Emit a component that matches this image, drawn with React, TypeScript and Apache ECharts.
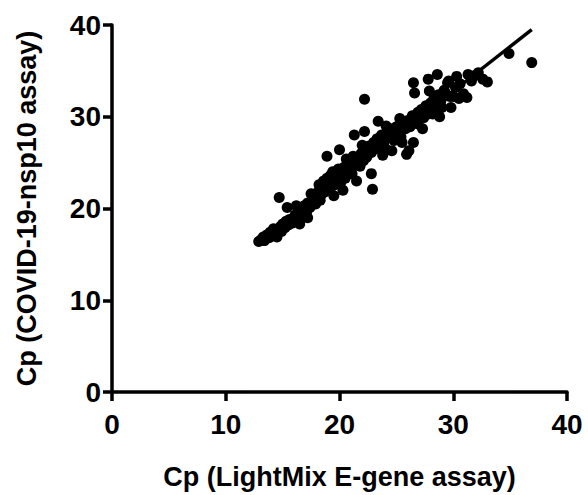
import React, { useEffect, useRef } from "react";
import * as echarts from "echarts";

const xTitle = "Cp (LightMix E-gene assay)";
const yTitle = "Cp (COVID-19-nsp10 assay)";

const points: [number, number][] = [
  [12.9, 16.4], [13.1, 16.6], [13.3, 16.9], [13.4, 16.5], [13.6, 17.1], [13.8, 16.8],
  [13.9, 17.4], [14.1, 17.0], [14.2, 17.8], [14.4, 17.3], [14.5, 16.9], [14.6, 17.6],
  [14.8, 18.0], [14.9, 17.5], [15.0, 18.3], [15.2, 17.9], [15.3, 18.6], [15.5, 18.2],
  [15.6, 18.8], [15.8, 18.4], [14.7, 21.2], [15.4, 20.1], [16.0, 18.9], [16.1, 19.3],
  [16.3, 18.6], [16.4, 19.6], [16.6, 19.2], [16.8, 19.9], [16.9, 20.3], [17.1, 19.6],
  [17.2, 20.6], [17.4, 20.1], [17.6, 20.8], [17.7, 21.0], [17.9, 20.5], [18.0, 21.3],
  [18.1, 21.8], [18.2, 22.6], [18.3, 20.9], [18.4, 21.5], [18.5, 22.2], [18.6, 23.0],
  [18.7, 21.8], [18.8, 22.7], [18.9, 23.3], [19.0, 22.1], [19.1, 22.9], [19.2, 23.6],
  [19.3, 22.4], [19.4, 24.0], [19.5, 23.2], [19.6, 22.6], [19.7, 23.8], [19.8, 23.0],
  [19.9, 24.3], [20.0, 23.4], [20.1, 22.8], [20.2, 23.9], [20.4, 24.5], [20.5, 23.3],
  [20.7, 24.1], [20.8, 25.0], [21.0, 24.4], [21.1, 23.8], [21.2, 25.7], [21.4, 24.9],
  [21.6, 25.4], [21.8, 24.6], [21.9, 26.0], [22.1, 25.2], [22.3, 26.4], [22.4, 25.6],
  [22.6, 26.8], [22.8, 23.8], [22.9, 22.1], [22.8, 26.1], [23.0, 27.2], [23.2, 26.5],
  [23.3, 27.6], [23.5, 26.9], [23.7, 28.0], [23.9, 27.3], [24.0, 26.6], [24.2, 28.3],
  [24.3, 27.7], [24.5, 28.7], [24.7, 28.1], [24.8, 27.4], [25.0, 28.9], [25.2, 28.4],
  [25.4, 27.8], [25.5, 27.2], [25.9, 25.9], [26.1, 26.3], [25.6, 29.3], [25.8, 28.7],
  [26.0, 29.6], [26.2, 28.9], [26.4, 30.1], [26.5, 27.2], [26.7, 29.5], [26.9, 30.5],
  [27.0, 29.8], [27.2, 30.8], [27.4, 29.9], [27.6, 31.2], [27.8, 30.3], [27.9, 32.8],
  [28.0, 31.5], [28.2, 30.3], [28.3, 32.0], [28.5, 31.1], [28.7, 32.4], [28.9, 31.7],
  [29.0, 31.0], [29.2, 32.9], [29.3, 32.6], [29.5, 33.7], [29.7, 32.2], [30.0, 32.2],
  [30.2, 33.2], [30.3, 34.4], [30.6, 33.6], [30.9, 32.5], [31.2, 32.1], [31.3, 34.6],
  [31.6, 33.9], [31.9, 34.5], [32.2, 34.8], [32.6, 34.1], [33.0, 33.8], [26.5, 33.7],
  [26.6, 32.6], [27.8, 34.1], [28.6, 34.6], [34.9, 36.9], [36.9, 35.9], [18.9, 25.7],
  [20.0, 26.4], [21.3, 28.0], [22.2, 28.4], [22.2, 31.9], [23.4, 29.5], [24.6, 28.4],
  [26.9, 29.2], [19.5, 21.4], [20.3, 22.0], [21.5, 23.0], [17.2, 19.0], [16.5, 18.3],
  [23.8, 25.8], [24.6, 26.3], [27.3, 28.7], [28.8, 30.0], [29.8, 31.0], [30.5, 32.0],
  [17.5, 21.6], [16.2, 20.3], [20.6, 25.4], [22.0, 26.9], [24.1, 29.0], [25.3, 29.8],
  [29.6, 33.9],
];

const fitLine: [number, number][] = [
  [12.8, 16.1],
  [36.9, 39.5],
];

const FONT = "'Liberation Sans', Arial, sans-serif";

export default function App() {
  const ref = useRef<HTMLDivElement>(null);
  useEffect(() => {
    if (!ref.current) return;
    const chart = echarts.init(ref.current, null, { renderer: "svg" });
    const axisCommon = {
      min: 0,
      max: 40,
      interval: 10,
      nameLocation: "middle" as const,
      axisLine: { show: true, onZero: false, lineStyle: { color: "#000", width: 3.5 } },
      axisTick: { show: true, length: 9, lineStyle: { color: "#000", width: 3.5 } },
      splitLine: { show: false },
      nameTextStyle: { color: "#000", fontFamily: FONT, fontWeight: "bold" as const, fontSize: 27 },
      axisLabel: { color: "#000", fontFamily: FONT, fontWeight: "bold" as const, fontSize: 28 },
    };
    chart.setOption({
      animation: false,
      backgroundColor: "#fff",
      grid: { left: 112, right: 21, top: 25, bottom: 100, containLabel: false },
      xAxis: {
        ...axisCommon,
        type: "value",
        name: xTitle,
        nameGap: 71,
        axisLabel: { ...axisCommon.axisLabel, margin: 18 },
      },
      yAxis: {
        ...axisCommon,
        type: "value",
        name: yTitle,
        nameGap: 72,
        axisLabel: { ...axisCommon.axisLabel, margin: 11 },
      },
      series: [
        {
          type: "scatter",
          data: points,
          symbol: "circle",
          symbolSize: 11,
          itemStyle: { color: "#000", opacity: 1 },
          z: 2,
        },
        {
          type: "line",
          data: fitLine,
          showSymbol: false,
          symbol: "none",
          lineStyle: { color: "#000", width: 3.5 },
          z: 3,
        },
      ],
    });
    return () => chart.dispose();
  }, []);
  return (
    <div
      ref={ref}
      style={{ position: "fixed", left: 0, top: 0, width: 588, height: 495, background: "#fff" }}
    />
  );
}
